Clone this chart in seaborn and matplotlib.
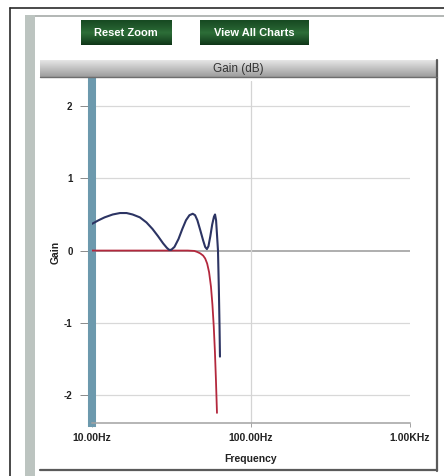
import numpy as np
import matplotlib
matplotlib.use("Agg")
import matplotlib.pyplot as plt
import seaborn as sns
from matplotlib.patches import Rectangle
from matplotlib.lines import Line2D

# Filter response: total gain (navy) and low-pass prototype (red)
freq_total = [10.0, 11.0, 12.0, 13.5, 15.0, 16.5, 18.0, 20.0, 22.0, 24.0, 26.0,
              28.0, 29.5, 30.5, 31.5, 33.0, 35.0, 37.0, 39.0, 41.0, 43.0, 44.5,
              46.0, 48.0, 50.0, 51.5, 52.8, 54.0, 55.5, 57.0, 58.5, 59.4, 60.3,
              61.2, 62.0, 62.8, 63.4, 63.8]
gain_total = [0.37, 0.42, 0.46, 0.50, 0.52, 0.52, 0.50, 0.46, 0.39, 0.30, 0.20,
              0.10, 0.04, 0.01, 0.01, 0.05, 0.16, 0.30, 0.42, 0.49, 0.51, 0.49,
              0.42, 0.28, 0.14, 0.05, 0.02, 0.06, 0.20, 0.36, 0.47, 0.50, 0.42,
              0.20, 0.00, -0.55, -1.05, -1.47]

freq_lowpass = [10.0, 20.0, 30.0, 40.0, 44.0, 46.0, 48.0, 50.0, 51.5, 53.0, 54.5,
                56.0, 57.2, 58.3, 59.3, 60.2, 61.1]
gain_lowpass = [0.0, 0.0, 0.0, 0.0, -0.005, -0.02, -0.04, -0.07, -0.11, -0.18,
                -0.30, -0.50, -0.75, -1.05, -1.40, -1.80, -2.25]

y_ticks = [-2, -1, 0, 1, 2]
y_tick_labels = ["-2", "-1", "0", "1", "2"]
x_ticks = [10, 100, 1000]
x_tick_labels = ["10.00Hz", "100.00Hz", "1.00KHz"]
button_labels = ["Reset Zoom", "View All Charts"]
chart_title = "Gain (dB)"

sns.set_theme(style="white")
plt.rcParams['font.family'] = ['Liberation Sans', 'DejaVu Sans']

W, H = 444, 476
fig = plt.figure(figsize=(W / 100, H / 100), dpi=100)
fig.patch.set_facecolor("white")


def box(x0, y0, x1, y1):
    """Pixel box (top-left origin) -> figure fraction [l, b, w, h]."""
    return [x0 / W, 1 - y1 / H, (x1 - x0) / W, (y1 - y0) / H]


def hline(x0, x1, y, color, lw):
    fig.add_artist(Line2D([x0 / W, x1 / W], [1 - y / H, 1 - y / H],
                          transform=fig.transFigure, color=color, lw=lw))


def vline(x, y0, y1, color, lw):
    fig.add_artist(Line2D([x / W, x / W], [1 - y0 / H, 1 - y1 / H],
                          transform=fig.transFigure, color=color, lw=lw))


def fill(x0, y0, x1, y1, color):
    l, b, w, h = box(x0, y0, x1, y1)
    fig.add_artist(Rectangle((l, b), w, h, transform=fig.transFigure,
                             facecolor=color, edgecolor="none"))


# Page frame and side panel
hline(10, 444, 8, "#2a2a2a", 1.2)
vline(10, 8, 476, "#2a2a2a", 1.2)
fill(25, 15, 444, 17, "#b4b8b6")
fill(25, 15, 35, 476, "#bcc4c0")

# Chart container shadow border
vline(437, 60, 471, "#5a5a5a", 1.6)
hline(40, 437, 470, "#5a5a5a", 1.6)


def gradient_axes(rect, top, bottom, mid=None):
    gax = fig.add_axes(rect)
    top = np.array(matplotlib.colors.to_rgb(top))
    bottom = np.array(matplotlib.colors.to_rgb(bottom))
    t = np.linspace(0, 1, 64)[:, None]
    if mid is None:
        cols = top * (1 - t) + bottom * t
    else:
        mid = np.array(matplotlib.colors.to_rgb(mid))
        w = 1 - np.abs(2 * t - 1)
        base = top * (1 - t) + bottom * t
        cols = base * (1 - w) + mid * w
    gax.imshow(cols[:, None, :], aspect="auto", extent=[0, 1, 0, 1])
    gax.set_axis_off()
    return gax


# Buttons
for (x0, x1), label in zip([(81, 171), (200, 308)], button_labels):
    bax = gradient_axes(box(x0, 20, x1, 45), "#174a22", "#0f3518", mid="#2d6e38")
    bax.text(0.5, 0.5, label, color="white", fontsize=8, fontweight="bold",
             ha="center", va="center", transform=bax.transAxes)

# Title bar
tax = gradient_axes(box(40, 60, 437, 77), "#e6e6e6", "#9c9c9c")
tax.text(0.5, 0.45, chart_title, color="#333333", fontsize=8.5,
         ha="center", va="center", transform=tax.transAxes)
hline(40, 437, 77, "#6e6e6e", 1.0)

# Main plot
ax = fig.add_axes(box(92, 81, 410, 423))
ax.set_facecolor("white")
ax.set_xscale("log")
ax.set_xlim(10, 1000)
ax.set_ylim(-2.39, 2.35)

for yv in y_ticks:
    ax.axhline(yv, color="#a8a8a8" if yv == 0 else "#d8d8d8",
               lw=1.3 if yv == 0 else 0.9, zorder=1)
ax.axvline(100, color="#d4d4d4", lw=0.9, zorder=1)

sns.lineplot(x=freq_lowpass, y=gain_lowpass, ax=ax, color="#b3283d",
             lw=1.3, estimator=None, zorder=3)
sns.lineplot(x=freq_total, y=gain_total, ax=ax, color="#2c3463",
             lw=1.5, estimator=None, zorder=4)

ax.xaxis.set_minor_locator(matplotlib.ticker.NullLocator())
ax.set_xticks(x_ticks)
ax.set_xticklabels(x_tick_labels)
ax.set_yticks(y_ticks)
ax.set_yticklabels(y_tick_labels)

for side in ("top", "right"):
    ax.spines[side].set_visible(False)
ax.spines["left"].set_color("#6c99ad")
ax.spines["left"].set_linewidth(5.8)
ax.spines["bottom"].set_color("#a2a2a2")
ax.spines["bottom"].set_linewidth(1.1)

ax.tick_params(axis="y", left=True, length=9, width=0.7, color="#8a8a8a",
               pad=5, labelsize=7, labelcolor="#222222")
ax.tick_params(axis="x", bottom=True, length=3, width=0.7, color="#a2a2a2",
               pad=4, labelsize=7.5, labelcolor="#222222")
for lab in ax.get_xticklabels() + ax.get_yticklabels():
    lab.set_fontweight("bold")

ax.set_xlabel("Frequency", fontsize=7.5, fontweight="bold", color="#222222",
              labelpad=8)
ax.set_ylabel("Gain", fontsize=7.5, fontweight="bold", color="#222222",
              labelpad=2)

fig.savefig("out.png", dpi=100)
